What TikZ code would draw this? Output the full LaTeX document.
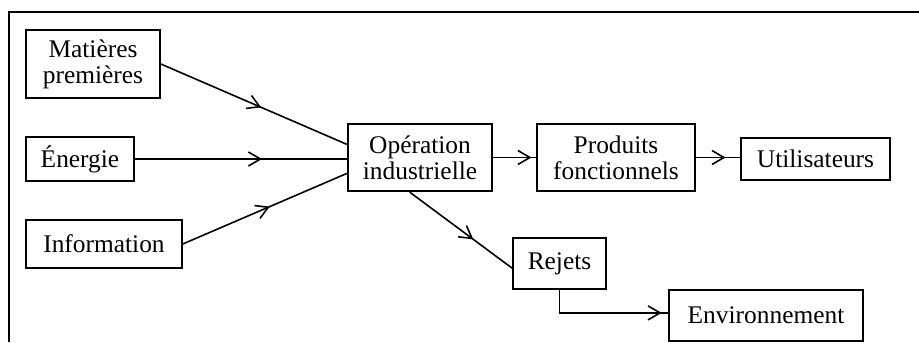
\documentclass[tikz,border=0pt]{standalone}
\usepackage{fontspec}
\setmainfont{Liberation Serif}
\usetikzlibrary{arrows.meta,decorations.markings,calc}
\tikzset{
  box/.style={draw, line width=0.8pt, inner sep=0pt, align=center, font=\fontsize{12.7}{13}\selectfont},
  conn/.style={line width=0.8pt},
  midarrow/.style={postaction={decorate}, decoration={markings, mark=at position #1 with {\arrow{Straight Barb[length=6pt,width=7pt,line width=0.8pt]}}}}
}
\begin{document}
\begin{tikzpicture}[x=0.5pt,y=-0.5pt]
\useasboundingbox (0,0) rectangle (919,342);
% frame
\draw[line width=0.8pt] (9,342) -- (9,12) -- (919,12);
% nodes
\node[box, minimum width=67pt, minimum height=34pt] (mat) at (93,64) {Matières\\premières};
\node[box, minimum width=54pt, minimum height=22pt] (en) at (80,159) {Énergie};
\node[box, minimum width=78pt, minimum height=24pt] (inf) at (104,244) {Information};
\node[box, line width=1.2pt, minimum width=72pt, minimum height=33.5pt] (op) at (420,157.5) {Opération\\industrielle};
\node[box, minimum width=79pt, minimum height=33.5pt] (prod) at (616,157.5) {Produits\\fonctionnels};
\node[box, minimum width=74.5pt, minimum height=21pt] (ut) at (815.5,159) {Utilisateurs};
\node[box, minimum width=46.5pt, minimum height=25.5pt] (rej) at (559.5,263.5) {Rejets};
\node[box, minimum width=97pt, minimum height=25.5pt] (env) at (766,315.5) {Environnement};
% connectors
\draw[conn, midarrow=0.54] (mat.east) -- ($(op.north west)!0.31!(op.south west)$);
\draw[conn, midarrow=0.6] (en.east) -- (en.east -| op.west);
\draw[conn, midarrow=0.53] (inf.east) -- ($(op.north west)!0.73!(op.south west)$);
\draw[conn, midarrow=0.62] ($(op.south west)!0.43!(op.south east)$) -- ($(rej.north west)!0.59!(rej.south west)$);
\draw[conn, midarrow=0.89] (op.east) -- (op.east -| prod.west);
\draw[conn, midarrow=0.67] (prod.east) -- (prod.east -| ut.west);
\draw[conn, midarrow=0.95] (rej.south) |- ($(env.north west)!0.45!(env.south west)$);
\end{tikzpicture}
\end{document}
